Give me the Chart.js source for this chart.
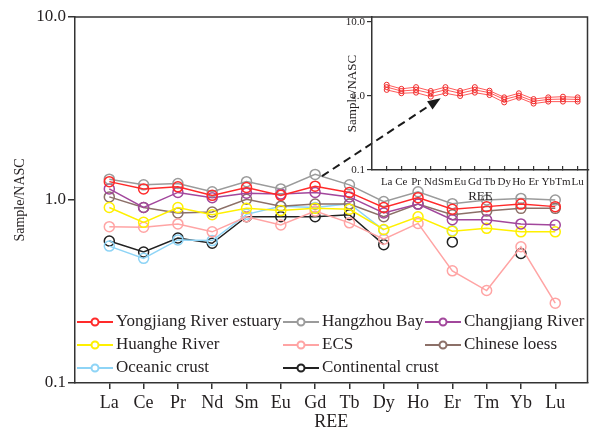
<!DOCTYPE html>
<html>
<head>
<meta charset="utf-8">
<script src="https://cdn.jsdelivr.net/npm/chart.js@4.4.1/dist/chart.umd.min.js"></script>
<style>
  html, body { margin: 0; padding: 0; background: #fff; }
  #wrap { position: relative; width: 594px; height: 429px; }
  #main { position: absolute; left: 0; top: 0; }
  #inset { position: absolute; left: 330px; top: 0; }
</style>
</head>
<body>
<div id="wrap">
  <canvas id="main" width="594" height="429"></canvas>
  <canvas id="inset" width="264" height="210"></canvas>
</div>
<script>
// REE categories (main plot and inset use a slightly different order at the end)
const elements = ["La", "Ce", "Pr", "Nd", "Sm", "Eu", "Gd", "Tb", "Dy", "Ho", "Er", "Tm", "Yb", "Lu"];
const insetElements = ["La", "Ce", "Pr", "Nd", "Sm", "Eu", "Gd", "Tb", "Dy", "Ho", "Er", "Yb", "Tm", "Lu"];
const yTicks = [0.1, 1, 10];

// Sample/NASC values (null = no point)
const yongjiang   = [1.26, 1.15, 1.18, 1.06, 1.17, 1.06, 1.19, 1.10, 0.91, 1.03, 0.89, 0.92, 0.95, 0.92];
const hangzhouBay = [1.30, 1.21, 1.23, 1.11, 1.26, 1.15, 1.38, 1.21, 0.98, 1.11, 0.955, 1.00, 1.02, 1.00];
const changjiang  = [1.15, 0.91, 1.10, 1.03, 1.09, 1.08, 1.10, 1.04, 0.85, 0.95, 0.78, 0.78, 0.74, 0.73];
const huanghe     = [0.91, 0.755, 0.91, 0.83, 0.90, 0.875, 0.90, 0.89, 0.69, 0.81, 0.675, 0.70, 0.67, 0.67];
const ecs         = [0.715, 0.71, 0.74, 0.67, 0.81, 0.73, 0.87, 0.75, 0.61, 0.745, 0.41, 0.32, 0.555, 0.273];
const loess       = [1.04, 0.91, 0.85, 0.86, 1.01, 0.925, 0.95, 0.95, 0.81, 0.95, 0.83, 0.87, 0.90, 0.90];
const oceanic     = [0.56, 0.48, 0.605, 0.60, 0.835, 0.925, 0.91, 0.955, 0.685, null, 0.68, null, null, null];
const continental = [0.597, 0.52, 0.62, 0.58, 0.81, 0.81, 0.81, 0.83, 0.57, null, 0.59, null, 0.51, null];

// inset: individual Yongjiang River estuary samples
const insetHigh = [1.42, 1.25, 1.32, 1.17, 1.32, 1.17, 1.32, 1.18, 0.96, 1.09, 0.91, 0.96, 0.98, 0.96];
const insetMid  = [1.32, 1.17, 1.21, 1.09, 1.21, 1.09, 1.21, 1.11, 0.90, 1.01, 0.85, 0.90, 0.91, 0.90];
const insetLow  = [1.21, 1.09, 1.11, 0.98, 1.09, 1.00, 1.11, 1.03, 0.82, 0.95, 0.79, 0.84, 0.84, 0.84];

const FONT = "'Liberation Serif', 'Times New Roman', serif";
const TEXT = "#231f20";
const AXIS = "#333333";

const toPoints = (arr) => arr.map((v, i) => ({ x: i, y: v }));

const series = [
  { label: "Yongjiang River estuary", data: yongjiang, color: "#ff2a2a" },
  { label: "Hangzhou Bay", data: hangzhouBay, color: "#9b9b9b" },
  { label: "Changjiang River", data: changjiang, color: "#a2479c" },
  { label: "Huanghe River", data: huanghe, color: "#fff000" },
  { label: "ECS", data: ecs, color: "#ffa4a4" },
  { label: "Chinese loess", data: loess, color: "#8c7068" },
  { label: "Oceanic crust", data: oceanic, color: "#8ed4f6" },
  { label: "Continental crust", data: continental, color: "#222222" },
];

// legend grid: [column, row] for each series
const legendSlots = [[0, 0], [1, 0], [2, 0], [0, 1], [1, 1], [2, 1], [0, 2], [1, 2]];
const legendCols = [2, 208, 350];
const legendRows = [322, 345, 368];

const frame = {
  id: "frame",
  afterDraw(chart) {
    const { ctx, chartArea: a } = chart;
    ctx.save();
    ctx.strokeStyle = AXIS;
    ctx.lineWidth = 1.5;
    ctx.beginPath();
    ctx.moveTo(a.left, a.top);
    ctx.lineTo(a.right, a.top);
    ctx.lineTo(a.right, a.bottom);
    ctx.stroke();
    ctx.restore();
  },
};

const legendGrid = {
  id: "legendGrid",
  afterDraw(chart) {
    const { ctx, chartArea: a } = chart;
    ctx.save();
    ctx.font = "17px " + FONT;
    ctx.textBaseline = "middle";
    ctx.fillStyle = TEXT;
    chart.data.datasets.forEach((ds, i) => {
      const [c, r] = legendSlots[i];
      const x0 = a.left + legendCols[c];
      const y = legendRows[r];
      ctx.strokeStyle = ds.borderColor;
      ctx.lineWidth = 2;
      ctx.beginPath();
      ctx.moveTo(x0, y);
      ctx.lineTo(x0 + 36, y);
      ctx.stroke();
      ctx.beginPath();
      ctx.fillStyle = "#fff";
      ctx.arc(x0 + 18, y, 3.5, 0, Math.PI * 2);
      ctx.fill();
      ctx.stroke();
      ctx.fillStyle = TEXT;
      ctx.fillText(ds.label, x0 + 39, y);
    });
    ctx.restore();
  },
};

const arrow = {
  id: "arrow",
  afterDraw(chart) {
    const { ctx, scales } = chart;
    const x1 = scales.x.getPixelForValue(6.2), y1 = scales.y.getPixelForValue(1.35);
    const x2 = scales.x.getPixelForValue(9.66), y2 = scales.y.getPixelForValue(3.6);
    const ang = Math.atan2(y2 - y1, x2 - x1);
    const head = 13;
    ctx.save();
    ctx.strokeStyle = "#1a1a1a";
    ctx.fillStyle = "#1a1a1a";
    ctx.lineWidth = 2;
    ctx.setLineDash([8, 5]);
    ctx.beginPath();
    ctx.moveTo(x1, y1);
    ctx.lineTo(x2 - head * Math.cos(ang), y2 - head * Math.sin(ang));
    ctx.stroke();
    ctx.setLineDash([]);
    ctx.beginPath();
    ctx.moveTo(x2, y2);
    ctx.lineTo(x2 - head * Math.cos(ang) + 5 * Math.sin(ang), y2 - head * Math.sin(ang) - 5 * Math.cos(ang));
    ctx.lineTo(x2 - head * Math.cos(ang) - 5 * Math.sin(ang), y2 - head * Math.sin(ang) + 5 * Math.cos(ang));
    ctx.closePath();
    ctx.fill();
    ctx.restore();
  },
};

new Chart(document.getElementById("main"), {
  type: "line",
  data: {
    datasets: series.map((s) => ({
      label: s.label,
      data: toPoints(s.data),
      borderColor: s.color,
      backgroundColor: "transparent",
      pointBorderColor: s.color,
      pointBackgroundColor: "transparent",
      pointRadius: 5,
      pointBorderWidth: 1.5,
      borderWidth: 1.5,
      spanGaps: false,
      tension: 0,
    })),
  },
  options: {
    responsive: false,
    animation: false,
    devicePixelRatio: 1,
    layout: { padding: { top: 17, right: 2, left: 0, bottom: 0 } },
    plugins: { legend: { display: false }, tooltip: { enabled: false } },
    scales: {
      x: {
        type: "linear",
        min: -1,
        max: 13.94,
        afterBuildTicks: (s) => { s.ticks = elements.map((_, i) => ({ value: i })); },
        afterFit: (s) => { s.height = 46; },
        grid: { drawOnChartArea: false, tickLength: 6, color: AXIS, lineWidth: 1.5 },
        border: { color: AXIS, width: 1.5 },
        ticks: {
          autoSkip: false, maxRotation: 0, padding: 3, color: TEXT,
          font: { family: FONT, size: 18 },
          callback: (v) => elements[v] ?? "",
        },
        title: { display: true, text: "REE", color: TEXT, padding: 0, font: { family: FONT, size: 18, lineHeight: 0.8 } },
      },
      y: {
        type: "logarithmic",
        min: 0.1,
        max: 10,
        afterBuildTicks: (s) => { s.ticks = yTicks.map((v) => ({ value: v })); },
        afterFit: (s) => { s.width = 75; },
        grid: { drawOnChartArea: false, tickLength: 7, color: AXIS, lineWidth: 1.5 },
        border: { color: AXIS, width: 1.5 },
        ticks: {
          padding: 2, color: TEXT,
          font: { family: FONT, size: 17 },
          callback: (v) => Number(v).toFixed(1),
        },
        title: { display: true, text: "Sample/NASC", color: TEXT, padding: { top: 12 }, font: { family: FONT, size: 14 } },
      },
    },
  },
  plugins: [frame, arrow, legendGrid],
});

const insetSets = [insetHigh, insetMid, insetLow];
new Chart(document.getElementById("inset"), {
  type: "line",
  data: {
    datasets: insetSets.map((arr) => ({
      data: toPoints(arr),
      borderColor: "#ff5a5a",
      pointBorderColor: "#ee2a2a",
      pointBackgroundColor: "transparent",
      pointRadius: 2.5,
      pointBorderWidth: 1,
      borderWidth: 1,
      tension: 0,
    })),
  },
  options: {
    responsive: false,
    animation: false,
    devicePixelRatio: 1,
    layout: { padding: { top: 17, right: 2, left: 0, bottom: 0 } },
    plugins: { legend: { display: false }, tooltip: { enabled: false } },
    scales: {
      x: {
        type: "linear",
        min: -1,
        max: 13.77,
        afterBuildTicks: (s) => { s.ticks = insetElements.map((_, i) => ({ value: i })); },
        afterFit: (s) => { s.height = 40; },
        grid: { drawOnChartArea: false, tickLength: -4, color: AXIS, lineWidth: 1.2 },
        border: { color: AXIS, width: 1.5 },
        ticks: {
          autoSkip: false, maxRotation: 0, padding: 10, color: TEXT,
          font: { family: FONT, size: 11 },
          callback: (v) => insetElements[v] ?? "",
        },
        title: { display: true, text: "REE", color: TEXT, padding: { bottom: 7 }, font: { family: FONT, size: 13, lineHeight: 1 } },
      },
      y: {
        type: "logarithmic",
        min: 0.1,
        max: 11.7,
        afterBuildTicks: (s) => { s.ticks = yTicks.map((v) => ({ value: v })); },
        afterFit: (s) => { s.width = 42; },
        grid: { drawOnChartArea: false, tickLength: 5, color: AXIS, lineWidth: 1.2 },
        border: { color: AXIS, width: 1.5 },
        ticks: {
          padding: 2, color: TEXT,
          font: { family: FONT, size: 11 },
          callback: (v) => Number(v).toFixed(1),
        },
        title: { display: true, text: "Sample/NASC", color: TEXT, padding: { top: 15 }, font: { family: FONT, size: 13 } },
      },
    },
  },
});
</script>
</body>
</html>
